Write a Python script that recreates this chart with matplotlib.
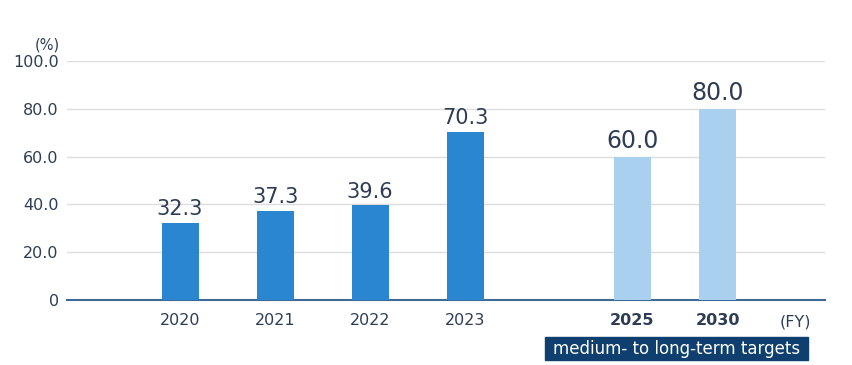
import matplotlib.pyplot as plt
import matplotlib.patches as mpatches

# data
years = ['2020', '2021', '2022', '2023', '2025', '2030']
values = [32.3, 37.3, 39.6, 70.3, 60.0, 80.0]
is_target = [False, False, False, False, True, True]
xpos = [0, 1, 2, 3, 4.76, 5.66]

dark_blue = '#2a86d0'
light_blue = '#a9d0ee'
text_col = '#2e3d55'

fig = plt.figure(figsize=(8.53, 3.65), dpi=100)
ax = fig.add_axes([0.0785, 0.178, 0.889, 0.655])

for x, v, t in zip(xpos, values, is_target):
    ax.bar(x, v, width=0.39, color=light_blue if t else dark_blue, zorder=3)
    ax.text(x, v + 1.5, f'{v:.1f}', ha='center', va='bottom',
            fontsize=17 if t else 15, color=text_col, zorder=4)

ax.set_xlim(-1.19, 6.79)
ax.set_ylim(0, 100)
ax.set_yticks([0, 20, 40, 60, 80, 100])
ax.set_yticklabels(['0', '20.0', '40.0', '60.0', '80.0', '100.0'])
ax.tick_params(axis='y', length=0, pad=6, labelsize=11.5, labelcolor=text_col)
ax.set_xticks(xpos)
ax.set_xticklabels(years)
ax.tick_params(axis='x', length=0, pad=9, labelsize=11.5, labelcolor=text_col)
for lbl, t in zip(ax.get_xticklabels(), is_target):
    if t:
        lbl.set_fontweight('bold')

for s in ['top', 'right', 'left']:
    ax.spines[s].set_visible(False)
ax.spines['bottom'].set_color('#3d6a96')
ax.spines['bottom'].set_linewidth(1.5)
ax.grid(axis='y', color='#dddddd', linewidth=1, zorder=0)
ax.set_axisbelow(True)

fig.text(0.055, 0.878, '(%)', ha='center', va='center', fontsize=10.5, color=text_col)
fig.text(0.932, 0.118, '(FY)', ha='center', va='center', fontsize=11.5, color=text_col)

fig.patches.append(mpatches.Rectangle((545 / 853, 1 - 360 / 365), 263 / 853, 23 / 365,
                                      transform=fig.transFigure, color='#0f3f6e'))
fig.text(676.5 / 853, 1 - 348.5 / 365, 'medium- to long-term targets', ha='center', va='center',
         fontsize=12, color='white')

plt.savefig('out.png', dpi=100)
